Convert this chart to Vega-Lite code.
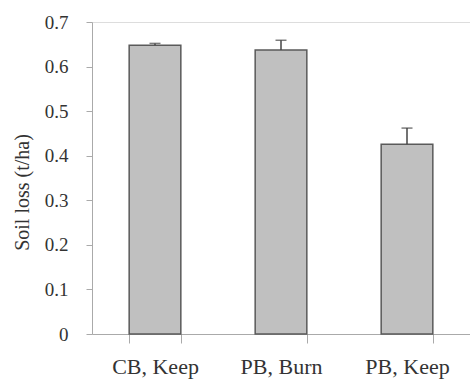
{
  "$schema": "https://vega.github.io/schema/vega-lite/v6.json",
  "width": 378,
  "height": 312,
  "autosize": {"type": "none"},
  "padding": {"left": 92, "top": 22, "right": 0, "bottom": 47},
  "background": "white",
  "config": {"font": "Times New Roman, Liberation Serif, serif"},
  "data": {"values": [
    {"treatment": "CB, Keep", "loss": 0.648, "upper": 0.652},
    {"treatment": "PB, Burn", "loss": 0.637, "upper": 0.659},
    {"treatment": "PB, Keep", "loss": 0.426, "upper": 0.462}
  ]},
  "encoding": {
    "x": {"field": "treatment", "type": "nominal", "sort": null,
      "scale": {"paddingInner": 0.59, "paddingOuter": 0.295},
      "axis": {"title": null, "labelAngle": 0, "tickBand": "extent", "tickSize": 9,
        "tickColor": "#aaaaaa", "domainColor": "#aaaaaa", "labelFont": "Times New Roman, Liberation Serif, serif",
        "labelFontSize": 22, "labelColor": "#333333", "labelPadding": 13}}
  },
  "layer": [
    {"mark": {"type": "bar", "color": "#c0c0c0", "stroke": "#5a5a5a", "strokeWidth": 1.5},
      "encoding": {"y": {"field": "loss", "type": "quantitative",
        "scale": {"domain": [0, 0.7], "nice": false},
        "axis": {"title": "Soil loss (t/ha)", "values": [0, 0.1, 0.2, 0.3, 0.4, 0.5, 0.6, 0.7],
          "format": "~g", "grid": false, "tickSize": 6, "tickColor": "#aaaaaa", "domainColor": "#aaaaaa",
          "labelFont": "Times New Roman, Liberation Serif, serif", "labelFontSize": 19, "labelColor": "#333333", "labelPadding": 18,
          "titleFont": "Times New Roman, Liberation Serif, serif", "titleFontSize": 20, "titleFontWeight": "normal",
          "titleColor": "#333333", "titlePadding": 12, "titleY": 170}}}},
    {"mark": {"type": "rule", "color": "#444444", "strokeWidth": 1.5},
      "encoding": {"y": {"field": "loss", "type": "quantitative"}, "y2": {"field": "upper"}}},
    {"mark": {"type": "tick", "color": "#444444", "size": 11, "thickness": 1.5},
      "encoding": {"y": {"field": "upper", "type": "quantitative"}}}
  ]
}
